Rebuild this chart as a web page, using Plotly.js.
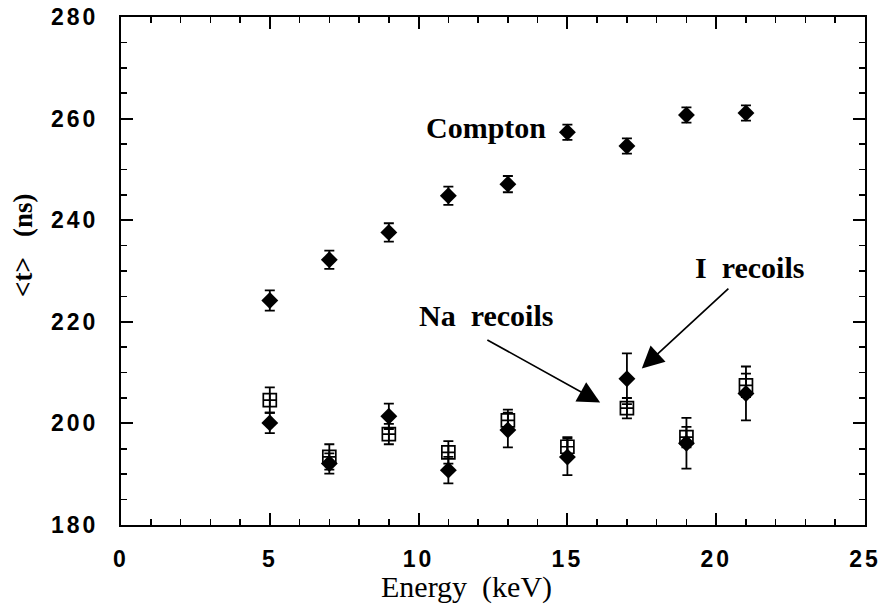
<!DOCTYPE html>
<html>
<head>
<meta charset="utf-8">
<script src="https://cdn.plot.ly/plotly-3.0.1.min.js"></script>
<style>
html,body{margin:0;padding:0;background:#fff;}
#chart{width:888px;height:605px;}
.xtick text,.ytick text{letter-spacing:3px;}
</style>
</head>
<body>
<div id="chart"></div>
<script>
// Energy (keV)
var energy = [5, 7, 9, 11, 13, 15, 17, 19, 21];
// Compton <t> (ns)
var compton = [224.2, 232.2, 237.6, 244.8, 247.1, 257.3, 254.6, 260.7, 261.1];
var comptonErr = [2.0, 1.8, 1.8, 1.8, 1.6, 1.5, 1.5, 1.5, 1.5];
// I recoils (filled diamonds)
var iRecoils = [200.1, 192.1, 201.4, 190.8, 198.7, 193.4, 208.8, 196.1, 205.9];
var iRecoilsErr = [2.0, 2.0, 2.5, 2.6, 3.4, 3.6, 5.0, 5.0, 5.3];
// Na recoils (open squares with cross)
var naRecoils = [204.6, 193.4, 197.9, 194.3, 200.6, 195.4, 203.0, 197.3, 207.5];
var naRecoilsErr = [2.5, 2.5, 2.0, 2.2, 2.1, 1.9, 2.0, 2.0, 2.3];

var xTicks = [0, 5, 10, 15, 20, 25];
var yTicks = [180, 200, 220, 240, 260, 280];

function errBar(arr) {
  return {type: 'data', array: arr, visible: true, color: '#000', thickness: 1.8, width: 5};
}

var traces = [
  {x: energy, y: compton, error_y: errBar(comptonErr), mode: 'markers', type: 'scatter',
   marker: {symbol: 'diamond', size: 13, color: '#000'}, name: 'Compton'},
  {x: energy, y: iRecoils, error_y: errBar(iRecoilsErr), mode: 'markers', type: 'scatter',
   marker: {symbol: 'diamond', size: 13, color: '#000'}, name: 'I recoils'},
  {x: energy, y: naRecoils, error_y: errBar(naRecoilsErr), mode: 'markers', type: 'scatter',
   marker: {symbol: 'square-cross-open', size: 13, color: '#000', line: {width: 1.7, color: '#000'}}, name: 'Na recoils'}
];

var tickFont = {family: 'Liberation Sans, Arial, sans-serif', size: 23, color: '#000', weight: 'bold'};
var serifBold = {family: 'Liberation Serif, Times New Roman, serif', size: 30, color: '#000', weight: 'bold'};

var layout = {
  width: 888, height: 605,
  margin: {l: 121, r: 23, t: 17, b: 80},
  paper_bgcolor: '#fff', plot_bgcolor: '#fff',
  showlegend: false,
  xaxis: {
    range: [0, 25], tickvals: xTicks, ticktext: xTicks.map(String),
    showgrid: false, zeroline: false, showline: true, linecolor: '#000', linewidth: 2,
    mirror: 'ticks', ticks: 'inside', ticklen: 12, tickwidth: 2, tickcolor: '#000',
    minor: {dtick: 1, ticks: 'inside', ticklen: 6, tickwidth: 1.5, tickcolor: '#000', showgrid: false},
    tickfont: tickFont, ticklabelstandoff: 12
  },
  yaxis: {
    range: [180, 280], tickvals: yTicks, ticktext: yTicks.map(String),
    showgrid: false, zeroline: false, showline: true, linecolor: '#000', linewidth: 2,
    mirror: 'ticks', ticks: 'inside', ticklen: 12, tickwidth: 2, tickcolor: '#000',
    minor: {dtick: 5, ticks: 'inside', ticklen: 6, tickwidth: 1.5, tickcolor: '#000', showgrid: false},
    tickfont: tickFont, ticklabelstandoff: 16
  },
  annotations: [
    {x: 12.28, y: 258.3, xref: 'x', yref: 'y', text: 'Compton', showarrow: false, font: serifBold},
    {x: 21.13, y: 230.6, xref: 'x', yref: 'y', text: 'I&nbsp;&nbsp;recoils', showarrow: false, font: serifBold},
    {x: 12.26, y: 221.3, xref: 'x', yref: 'y', text: 'Na&nbsp;&nbsp;recoils', showarrow: false, font: serifBold},
    {x: 17.5, y: 210.8, ax: 20.46, ay: 226.8, xref: 'x', yref: 'y', axref: 'x', ayref: 'y',
     text: '', showarrow: true, arrowhead: 2, arrowsize: 2.6, arrowwidth: 1.7, arrowcolor: '#000'},
    {x: 16.1, y: 204.1, ax: 12.26, ay: 216.6, xref: 'x', yref: 'y', axref: 'x', ayref: 'y',
     text: '', showarrow: true, arrowhead: 2, arrowsize: 2.6, arrowwidth: 1.7, arrowcolor: '#000'},
    {x: 466, y: 587, xref: 'paper', yref: 'paper', xanchor: 'center', yanchor: 'middle',
     text: 'Energy&nbsp;&nbsp;(keV)', showarrow: false,
     font: {family: 'Liberation Serif, Times New Roman, serif', size: 30, color: '#000'}},
    {x: 23, y: 245, xref: 'paper', yref: 'paper', xanchor: 'center', yanchor: 'middle',
     text: '&lt;t&gt;&nbsp;&nbsp;&nbsp;(ns)', showarrow: false, textangle: -90,
     font: {family: 'Liberation Serif, Times New Roman, serif', size: 27, color: '#000', weight: 'bold'}}
  ]
};

// convert pixel-positioned title annotations into paper coordinates
(function () {
  var pw = 888 - 121 - 23, ph = 605 - 17 - 80;
  var a5 = layout.annotations[5], a6 = layout.annotations[6];
  a5.x = (a5.x - 121) / pw; a5.y = (605 - 80 - a5.y) / ph;
  a6.x = (a6.x - 121) / pw; a6.y = (605 - 80 - a6.y) / ph;
})();

Plotly.newPlot('chart', traces, layout, {displayModeBar: false, staticPlot: true});
</script>
</body>
</html>
